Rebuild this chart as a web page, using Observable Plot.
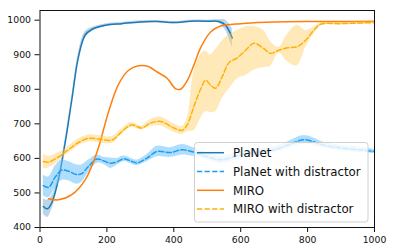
<!DOCTYPE html>
<html><head><meta charset="utf-8">
<script src="https://cdn.jsdelivr.net/npm/d3@7"></script>
<script src="https://cdn.jsdelivr.net/npm/@observablehq/plot@0.6"></script>
<style>body{margin:0;background:#fff}</style>
</head><body><div id="chart"></div>
<script>
// ---- data ----
const xTicks = [0, 200, 400, 600, 800, 1000];
const yTicks = [400, 500, 600, 700, 800, 900, 1000];
const seriesNames = ["PlaNet", "PlaNet with distractor", "MIRO", "MIRO with distractor"];

const planetX    = [10, 22, 35, 55, 75, 95, 115, 135, 155, 195, 245, 300, 350, 400, 450, 500, 535, 555, 575];
const planetY    = [461, 454, 471, 538, 644, 769, 894, 957, 973, 985, 990, 995, 996, 993, 997, 997, 996, 985, 948];
const planetSpread = [22, 25, 20, 12, 10, 10, 12, 10, 6, 4, 3, 3, 3, 3, 3, 3, 5, 15, 27];

const planetDX   = [10, 26, 45, 65, 85, 110, 125, 145, 171, 190, 211, 230, 251, 275, 291, 320, 350, 390, 425, 460, 500, 540, 600, 650, 700, 750, 790, 850, 900, 950, 1000];
const planetDY   = [521, 516, 545, 566, 563, 553, 556, 577, 598, 593, 586, 590, 599, 591, 587, 601, 620, 617, 625, 618, 605, 596, 610, 618, 625, 642, 654, 638, 630, 625, 620];
const planetDSpread = [30, 30, 32, 30, 28, 28, 25, 18, 12, 10, 15, 10, 8, 8, 8, 10, 15, 14, 15, 12, 10, 10, 10, 10, 8, 10, 12, 8, 8, 8, 6];

const miroX      = [25, 55, 95, 135, 171, 205, 235, 265, 294, 324, 350, 380, 405, 420, 440, 460, 480, 510, 540, 600, 650, 700, 800, 900, 1000];
const miroY      = [483, 480, 495, 538, 620, 735, 815, 855, 868, 866, 850, 832, 802, 800, 825, 870, 920, 966, 983, 990, 993, 995, 996, 996, 997];

const miroDX     = [10, 25, 55, 85, 115, 145, 175, 215, 245, 274, 304, 330, 360, 400, 425, 440, 460, 480, 495, 510, 525, 545, 565, 590, 615, 640, 669, 689, 714, 740, 769, 794, 819, 839, 900, 1000];
const miroDY     = [591, 589, 604, 625, 646, 658, 656, 653, 678, 697, 688, 702, 707, 688, 681, 697, 750, 800, 826, 812, 803, 837, 877, 891, 913, 933, 918, 904, 913, 920, 923, 942, 971, 988, 990, 993];
const miroDLo    = [570, 572, 592, 615, 636, 648, 646, 643, 670, 690, 682, 692, 694, 676, 670, 678, 680, 715, 735, 732, 735, 774, 800, 830, 840, 855, 863, 866, 905, 880, 868, 920, 960, 984, 987, 990];
const miroDHi    = [612, 606, 616, 635, 656, 668, 666, 663, 686, 704, 694, 712, 720, 700, 692, 716, 850, 900, 910, 900, 915, 940, 958, 970, 980, 982, 970, 938, 921, 960, 985, 970, 980, 992, 993, 996];

// ---- tables ----
const withSpread = (xs, ys, sp) => xs.map((x, i) => ({x, y: ys[i], lo: ys[i] - sp[i], hi: ys[i] + sp[i]}));
const withBand = (xs, ys, lo, hi) => xs.map((x, i) => ({x, y: ys[i], lo: lo[i], hi: hi[i]}));
const planet = withSpread(planetX, planetY, planetSpread);
const planetD = withSpread(planetDX, planetDY, planetDSpread);
const miro = miroX.map((x, i) => ({x, y: miroY[i]}));
const miroD = withBand(miroDX, miroDY, miroDLo, miroDHi);

const C = {planet: "#1f77b4", planetD: "#1e9cf0", miro: "#ff7f0e", miroD: "#ffb10a"};
const curve = "catmull-rom";
const dash = "5.2,2.4";

const chart = Plot.plot({
  width: 393, height: 252,
  marginLeft: 39.5, marginRight: 19, marginTop: 10, marginBottom: 25,
  style: {fontFamily: "DejaVu Sans", fontSize: "9.3px", color: "#111", background: "white"},
  x: {domain: [0, 1000]},
  y: {domain: [400, 1028]},
  marks: [
    Plot.areaY(planet, {x: "x", y1: "lo", y2: "hi", fill: C.planet, fillOpacity: 0.3, curve, clip: true}),
    Plot.lineY(planet, {x: "x", y: "y", stroke: C.planet, strokeWidth: 1.5, curve, clip: true}),
    Plot.areaY(planetD, {x: "x", y1: "lo", y2: "hi", fill: "#6cc2f7", fillOpacity: 0.55, curve, clip: true}),
    Plot.lineY(planetD, {x: "x", y: "y", stroke: C.planetD, strokeWidth: 1.5, strokeDasharray: dash, curve, clip: true}),
    Plot.lineY(miro, {x: "x", y: "y", stroke: C.miro, strokeWidth: 1.5, curve, clip: true}),
    Plot.areaY(miroD, {x: "x", y1: "lo", y2: "hi", fill: "#ffc94d", fillOpacity: 0.4, curve, clip: true}),
    Plot.lineY(miroD, {x: "x", y: "y", stroke: C.miroD, strokeWidth: 1.5, strokeDasharray: dash, curve, clip: true}),
    Plot.axisX({ticks: xTicks, tickFormat: d3.format("d"), tickSize: 5, tickPadding: 3.5, label: null}),
    Plot.axisY({ticks: yTicks, tickFormat: d3.format("d"), tickSize: 5, tickPadding: 4, label: null}),
    Plot.frame({stroke: "#111", strokeWidth: 1})
  ]
});
document.getElementById("chart").appendChild(chart);

// ---- legend (inside the plot, lower right) ----
const svg = d3.select(chart);
const lg = svg.append("g").attr("font-family", "DejaVu Sans").attr("font-size", "11.8px").attr("text-anchor", "start");
lg.append("rect").attr("x", 194.5).attr("y", 142.5).attr("width", 173.5).attr("height", 79.5)
  .attr("rx", 3).attr("fill", "white").attr("fill-opacity", 0.8).attr("stroke", "#d0d0d0").attr("stroke-width", 1);
const items = [
  {name: seriesNames[0], color: C.planet, dashed: false},
  {name: seriesNames[1], color: C.planetD, dashed: true},
  {name: seriesNames[2], color: C.miro, dashed: false},
  {name: seriesNames[3], color: C.miroD, dashed: true}
];
items.forEach((it, i) => {
  const cy = 152.7 + i * 18.8;
  const ln = lg.append("line").attr("x1", 197).attr("x2", 224).attr("y1", cy).attr("y2", cy)
    .attr("stroke", it.color).attr("stroke-width", 1.5);
  if (it.dashed) ln.attr("stroke-dasharray", dash);
  lg.append("text").attr("x", 233).attr("y", cy).attr("dy", "0.36em").attr("fill", "#111")
    .attr("text-anchor", "start").text(it.name);
});
</script>
</body></html>
